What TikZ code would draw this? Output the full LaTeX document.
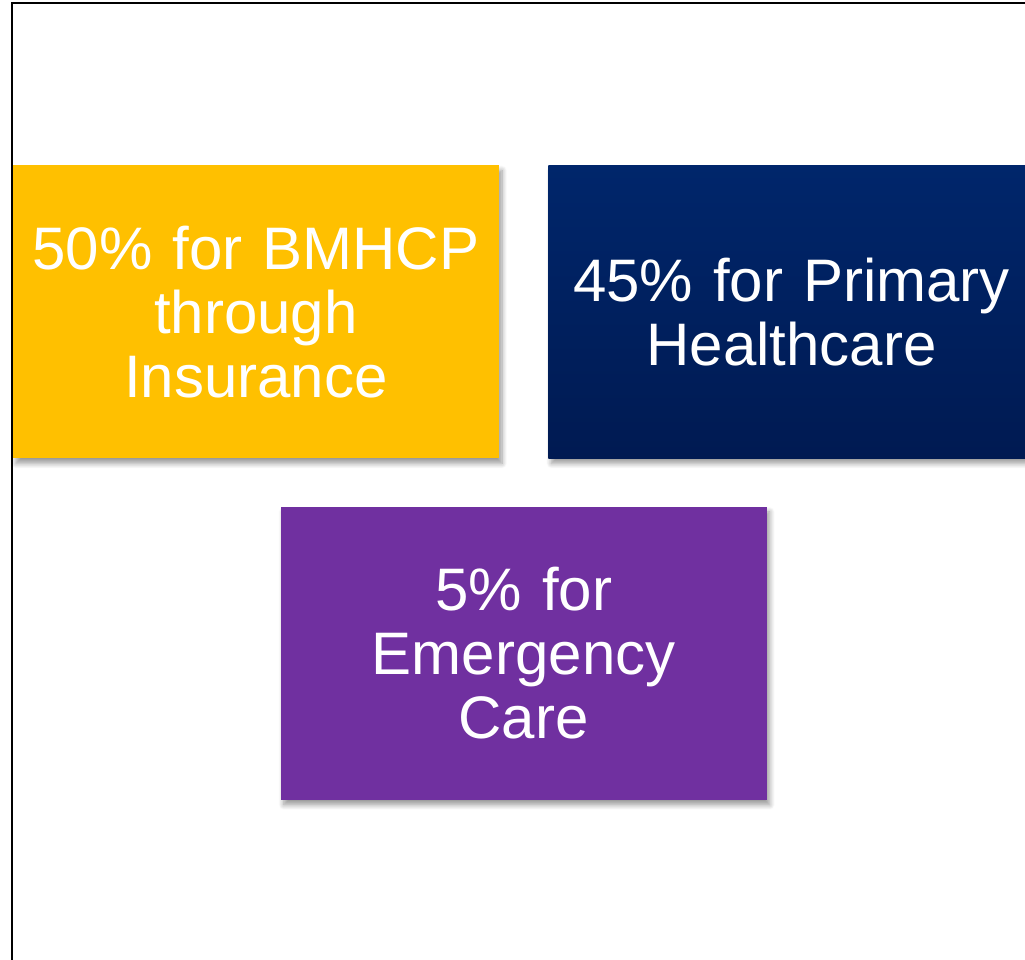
\documentclass[tikz,border=0pt]{standalone}
\usepackage{fontspec}
\setmainfont{Liberation Sans}
\usetikzlibrary{positioning,calc,shadows.blur}

\definecolor{goldbox}{RGB}{255,192,0}
\definecolor{navytop}{RGB}{0,38,107}
\definecolor{navybot}{RGB}{0,26,82}
\definecolor{violetbox}{RGB}{112,48,160}

\begin{document}
\begin{tikzpicture}[x=1pt,y=1pt,
    share/.style={rectangle, minimum width=486pt, minimum height=293pt,
      inner sep=0pt, text width=470pt, align=center, text=white,
      font=\fontsize{60}{64}\selectfont,
      blur shadow={shadow xshift=3pt, shadow yshift=-5pt, shadow blur radius=5pt, shadow blur steps=8, shadow opacity=40}}]
    \useasboundingbox (0,0) rectangle (1025,960);
    % frame
    \draw[line width=2pt] (12,0) |- (1025,957);
    \node[share, fill=goldbox]   (bmhcp) at (256,648) {50\% for BMHCP\\through\\Insurance};
    \node[share, top color=navytop, bottom color=navybot] (primary) [right=49pt of bmhcp] {45\% for Primary\\Healthcare};
    \coordinate (gap) at ($(bmhcp.south east)!0.5!(primary.south west)$);
    \node[share, fill=violetbox] (emergency) [below=48pt of gap] {5\% for\\Emergency\\Care};
\end{tikzpicture}
\end{document}
